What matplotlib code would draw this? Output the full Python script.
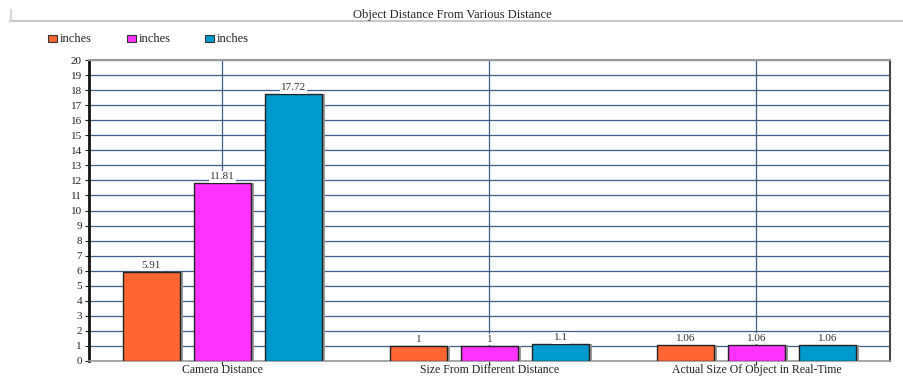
import matplotlib
matplotlib.use("Agg")
import matplotlib.pyplot as plt
from matplotlib.lines import Line2D
from matplotlib.patches import Rectangle
from matplotlib.transforms import blended_transform_factory
import numpy as np

plt.rcParams['font.family'] = ['Liberation Serif', 'DejaVu Serif']

title = "Object Distance From Various Distance"
categories = ["Camera Distance", "Size From Different Distance", "Actual Size Of Object in Real-Time"]
series_names = ["inches", "inches", "inches"]
series_values = [
    [5.91, 1.0, 1.06],
    [11.81, 1.0, 1.06],
    [17.72, 1.1, 1.06],
]
value_labels = [
    ["5.91", "1", "1.06"],
    ["11.81", "1", "1.06"],
    ["17.72", "1.1", "1.06"],
]
colors = ["#FF6633", "#FF33FF", "#0099CC"]
y_ticks = list(range(0, 21))

fig = plt.figure(figsize=(9.04, 3.77), dpi=100)
ax = fig.add_axes([89/904, 1 - 361/377, 801/904, 301/377])

x = np.arange(len(categories))
width = 0.217
step = 0.266
for i, (vals, labs, c) in enumerate(zip(series_values, value_labels, colors)):
    pos = x + (i - 1) * step
    # soft drop shadow to the right of each bar
    ax.bar(pos + 0.008, vals, width, color="#9a9a9a", zorder=2, linewidth=0)
    ax.bar(pos, vals, width, color=c, edgecolor="#222222", linewidth=1.0, zorder=3)
    for p, v, lab in zip(pos, vals, labs):
        ax.annotate(lab, (p, v), xytext=(0, 1.5), textcoords="offset points",
                    ha="center", va="bottom", fontsize=8, color="#333333",
                    bbox=dict(boxstyle="square,pad=0.12", fc="white", ec="none"),
                    zorder=5)

ax.set_xlim(-0.5, len(categories) - 0.5)
ax.set_ylim(0, 20)
ax.set_yticks(y_ticks)
ax.set_xticks(x)
ax.set_xticklabels([])
ax.tick_params(axis="both", labelsize=8, colors="#222222", length=3, width=0.8, pad=2)

# category names on a shared baseline below the axis
trans = blended_transform_factory(ax.transData, fig.transFigure)
for xi, name in zip(x, categories):
    ax.text(xi, 1 - 373/377, name, transform=trans, ha="center", va="baseline",
            fontsize=8.5, color="#222222", clip_on=False)

ax.grid(True, axis="y", color="#3f5f85", linewidth=0.9, zorder=0)
ax.grid(True, axis="x", color="#3f5f85", linewidth=0.9, zorder=0)
ax.set_axisbelow(True)

ax.spines["left"].set_linewidth(2.0)
ax.spines["left"].set_color("#111111")
ax.spines["right"].set_linewidth(1.5)
ax.spines["right"].set_color("#444444")
ax.spines["top"].set_linewidth(1.5)
ax.spines["top"].set_color("#999999")
ax.spines["bottom"].set_linewidth(1.2)
ax.spines["bottom"].set_color("#999999")

# title bar with its bottom rule
fig.text(0.5, 1 - 15/377, title, ha="center", va="center", fontsize=9, color="#222222")
fig.add_artist(Line2D([10/904, 1.0], [1 - 21/377, 1 - 21/377], color="#c8c8c8", linewidth=1.5))
fig.add_artist(Line2D([11/904, 11/904], [1 - 21/377, 1 - 10/377], color="#d8d8d8", linewidth=1.5))

# legend row
leg_x = [48, 127, 205]
for lx, name, c in zip(leg_x, series_names, colors):
    fig.add_artist(Rectangle((lx/904, 1 - 42/377), 9/904, 7/377, facecolor=c,
                             edgecolor="#333333", linewidth=0.8))
    fig.text((lx + 12)/904, 1 - 38.5/377, name, ha="left", va="center",
             fontsize=9, color="#222222")

fig.savefig("out.png", dpi=100)
